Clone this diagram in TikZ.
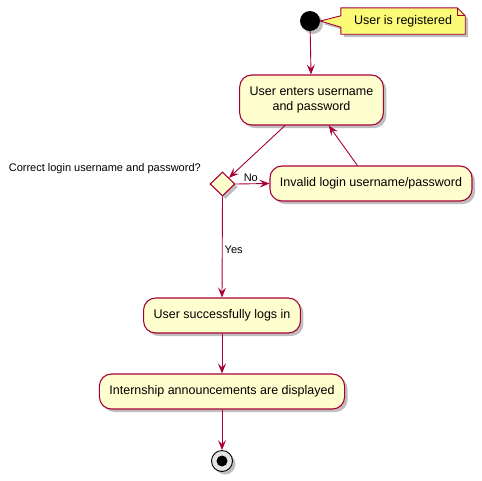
\documentclass[tikz,border=0pt]{standalone}
\usepackage{fontspec}
\setmainfont{Liberation Sans}
\usetikzlibrary{arrows.meta,shapes.geometric,shadows,calc,backgrounds}
\definecolor{umlRed}{HTML}{A80036}
\definecolor{umlFill}{HTML}{FEFECE}
\definecolor{umlNoteFill}{HTML}{FBFB77}
\tikzset{
  umlShadow/.style={drop shadow={shadow xshift=3pt, shadow yshift=-3pt, fill=black, opacity=0.25}},
  umlAct/.style={draw=umlRed, fill=umlFill, rounded corners=12pt, line width=1.1pt,
    inner xsep=10pt, inner ysep=0pt, minimum height=35pt, align=center,
    font=\fontsize{12.5}{14.5}\selectfont, umlShadow},
  umlDec/.style={diamond, draw=umlRed, fill=umlFill, line width=1.1pt, inner sep=0pt,
    minimum width=25pt, minimum height=24pt, umlShadow},
  umlStart/.style={circle, fill=black, minimum size=20pt, inner sep=0pt, umlShadow},
  umlStopRing/.style={circle, draw=black, fill=gray!20, line width=0.9pt, minimum size=21pt, inner sep=0pt, umlShadow},
  umlStopDot/.style={circle, fill=black, minimum size=11pt, inner sep=0pt},
  %% Note (sticky)
  umlNote/.style={minimum width=124pt, minimum height=26pt, inner sep=0pt,
    font=\fontsize{12.5}{14.5}\selectfont},
  umlNoteLine/.style={draw=umlRed, fill=umlNoteFill, line width=0.9pt, umlShadow},
  %% Flows
  umlFlow/.style={draw=umlRed, line width=0.9pt, -{Stealth[length=10pt, width=8pt, inset=4pt]}},
  umlGuard/.style={font=\fontsize{11}{13}\selectfont, inner sep=2pt},
}
\begin{document}
\begin{tikzpicture}[x=1pt, y=-1pt]
\useasboundingbox (0,0) rectangle (482,480);

%% Nodes
\node[umlStart]                     (start)      at (310,21)    {};
\node[umlNote]                      (note)       at (403,21)    {User is registered};
\node[umlAct, minimum height=50pt]  (actEnter)   at (311.5,100) {User enters username\\and password};
\node[umlDec]                       (dec)        at (222.5,184) {};
\node[umlAct]                       (actInvalid) at (371,183.5) {Invalid login username/password};
\node[umlAct]                       (actLogin)   at (222,315.5) {User successfully logs in};
\node[umlAct]                       (actShow)    at (222,391.5) {Internship announcements are displayed};
\node[umlStopRing]                  (stop)       at (222,461)   {};
\node[umlStopDot]                   (stopDot)    at (stop)      {};
\node[umlGuard, anchor=east]        (decLabel)   at (203,169)   {Correct login username and password?};

%% Note outline
\begin{scope}[on background layer]
\filldraw[umlNoteLine] (note.north west) -- ($(note.north east)+(-8,0)$) -- ($(note.north east)+(0,8)$)
  -- (note.south east) -- (note.south west) -- ($(note.south west)+(0,-7)$)
  -- (start.east) -- ($(note.north west)+(0,8)$) -- cycle;
\end{scope}
\draw[draw=umlRed, line width=0.9pt] ($(note.north east)+(-8,0)$) -- ++(0,8) -- ++(8,0);

%% Flows
\draw[umlFlow] (start) -- (actEnter);
\draw[umlFlow] (actEnter.224) -- (dec.north east);
\draw[umlFlow] (dec.east) -- node[umlGuard, above, pos=0.45]{No} (actInvalid.west);
\draw[umlFlow] (actInvalid.127) -- (actEnter.304);
\draw[umlFlow] (dec.south) -- node[umlGuard, right, pos=0.53]{Yes} (actLogin.north);
\draw[umlFlow] (actLogin) -- (actShow);
\draw[umlFlow] (actShow) -- (stop);

\end{tikzpicture}
\end{document}
